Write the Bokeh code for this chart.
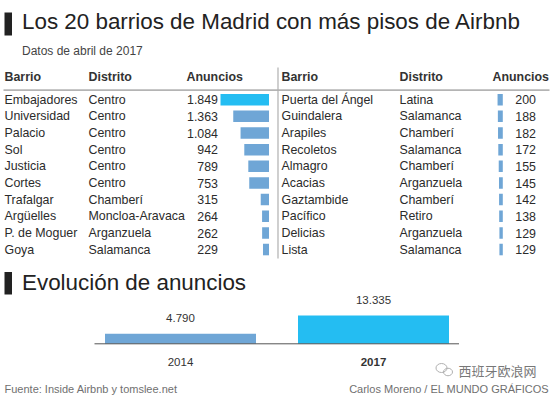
from bokeh.plotting import figure
from bokeh.models import Range1d, ColumnDataSource
from bokeh.core.properties import value
from bokeh.embed import file_html
from bokeh.resources import INLINE

# ---------------- data ----------------
titulo = "Los 20 barrios de Madrid con más pisos de Airbnb"
subtitulo = "Datos de abril de 2017"
cabeceras = ["Barrio", "Distrito", "Anuncios"]

barrios_izq = ["Embajadores", "Universidad", "Palacio", "Sol", "Justicia", "Cortes",
               "Trafalgar", "Argüelles", "P. de Moguer", "Goya"]
distritos_izq = ["Centro", "Centro", "Centro", "Centro", "Centro", "Centro",
                 "Chamberí", "Moncloa-Aravaca", "Arganzuela", "Salamanca"]
anuncios_izq = [1849, 1363, 1084, 942, 789, 753, 315, 264, 262, 229]

barrios_der = ["Puerta del Ángel", "Guindalera", "Arapiles", "Recoletos", "Almagro",
               "Acacias", "Gaztambide", "Pacífico", "Delicias", "Lista"]
distritos_der = ["Latina", "Salamanca", "Chamberí", "Salamanca", "Chamberí",
                 "Arganzuela", "Chamberí", "Retiro", "Arganzuela", "Salamanca"]
anuncios_der = [200, 188, 182, 172, 155, 145, 142, 138, 129, 129]

titulo_evo = "Evolución de anuncios"
anios = ["2014", "2017"]
anuncios_total = [4790, 13335]

fuente = "Fuente: Inside Airbnb y tomslee.net"
autor = "Carlos Moreno / EL MUNDO GRÁFICOS"
marca = "西班牙欧浪网"

# ---------------- layout / style ----------------
W, H = 553, 396
FONT = value("Liberation Sans")
AZUL = "#6fa6d6"
CIAN = "#24bdf2"
TXT = "#2b2b2b"

def fmt(v):
    return f"{v:,}".replace(",", ".")

p = figure(width=W, height=H, x_range=Range1d(0, W), y_range=Range1d(H, 0),
           min_border=0, toolbar_location=None, output_backend="svg")
p.axis.visible = False
p.grid.visible = False
p.outline_line_color = None
p.background_fill_color = "white"
p.border_fill_color = "white"

# bar scales (px per listing)
k_tab = 48.5 / 1849.0
izq_edge, der_edge = 268.5, 502.3
p.extra_x_ranges = {
    "izq": Range1d(izq_edge / k_tab, (izq_edge - W) / k_tab),
    "der": Range1d(der_edge / k_tab, (der_edge - W) / k_tab),
    "evo_x": Range1d(-180.0 / 193.0, (W - 180.0) / 193.0),
}
base_evo = 343.3
k_evo = 28.3 / 13335.0
p.extra_y_ranges = {"evo": Range1d((base_evo - H) / k_evo, base_evo / k_evo)}

# title blocks
p.quad(left=[4, 4], right=[11.5, 11.5], top=[12, 271.5], bottom=[35, 294],
       fill_color="#222222", line_color=None)
p.text(x=[21.5], y=[20.9], text=[titulo], text_font=FONT, text_font_size="22.4px",
       text_color="#222222", text_baseline="middle")
p.text(x=[21.5], y=[50.5], text=[subtitulo], text_font=FONT, text_font_size="12px",
       text_color="#444444", text_baseline="middle")
p.text(x=[21.5], y=[281.8], text=[titulo_evo], text_font=FONT, text_font_size="22.4px",
       text_color="#222222", text_baseline="middle")

# table lines
p.segment(x0=[3], y0=[89.6], x1=[549], y1=[89.6], line_color="#b4b4b4", line_width=1.6)
p.segment(x0=[277.5], y0=[67], x1=[277.5], y1=[258], line_color="#b0b0b0", line_width=1.2)

# headers
hx = [4, 88, 186, 281, 399, 492]
p.text(x=hx, y=[76] * 6, text=cabeceras * 2, text_font=FONT, text_font_size="12.4px",
       text_font_style="bold", text_color="#333333", text_baseline="middle")

DY = 16.65
def tabla(barrios, distritos, anuncios, xb, xd, xn, rango, colores):
    n = len(barrios)
    src = ColumnDataSource(dict(
        barrio=barrios, distrito=distritos, val=anuncios,
        num=[fmt(v) for v in anuncios],
        yt=[99.3 + i * DY for i in range(n)],
        yb=[99.2 + i * DY for i in range(n)],
        color=colores,
    ))
    p.hbar(y="yb", left=0, right="val", height=11.5, fill_color="color", line_color=None,
           source=src, x_range_name=rango)
    for col, x, al in (("barrio", xb, "left"), ("distrito", xd, "left"), ("num", xn, "right")):
        p.text(x=x, y="yt", text=col, source=src, text_font=FONT, text_font_size="12.4px",
               text_color=TXT, text_baseline="middle", text_align=al)

tabla(barrios_izq, distritos_izq, anuncios_izq, 4, 88, 217.5, "izq",
      [CIAN] + [AZUL] * (len(anuncios_izq) - 1))
tabla(barrios_der, distritos_der, anuncios_der, 281, 399, 535.5, "der",
      [AZUL] * len(anuncios_der))

# evolution chart
evo = ColumnDataSource(dict(x=list(range(len(anios))), top=anuncios_total,
                            lab=[fmt(v) for v in anuncios_total], anio=anios,
                            color=[AZUL, CIAN],
                            style=["normal", "bold"]))
p.vbar(x="x", top="top", bottom=0, width=151 / 193.0, fill_color="color", line_color=None,
       source=evo, x_range_name="evo_x", y_range_name="evo")
p.segment(x0=[94], y0=[base_evo], x1=[458.5], y1=[base_evo], line_color="#555555",
          line_width=1)
p.text(x="x", y="top", text="lab", source=evo, x_range_name="evo_x", y_range_name="evo",
       text_font=FONT, text_font_size="11.5px", text_color="#333333",
       text_align="center", text_baseline="middle", y_offset=-15.5)
p.text(x="x", y=0, text="anio", source=evo, x_range_name="evo_x", y_range_name="evo",
       text_font=FONT, text_font_size="11.5px", text_color="#333333",
       text_font_style="style",
       text_align="center", text_baseline="middle", y_offset=18)

# footer
p.text(x=[4], y=[388.4], text=[fuente], text_font=FONT, text_font_size="11px",
       text_color="#707070", text_baseline="middle")
p.text(x=[548.5], y=[388.4], text=[autor], text_font=FONT, text_font_size="11px",
       text_color="#707070", text_baseline="middle", text_align="right")

# watermark
p.ellipse(x=[441, 447.5], y=[367.5, 371.5], width=[11, 9], height=[9, 7.5],
          fill_color=None, line_color="#b0b0b0", line_width=1)
p.text(x=[458], y=[369.5], text=[marca], text_font=value("Noto Sans CJK SC"),
       text_font_size="13px", text_color="#777777", text_baseline="middle")

open("out.html", "w").write(file_html(p, INLINE))
